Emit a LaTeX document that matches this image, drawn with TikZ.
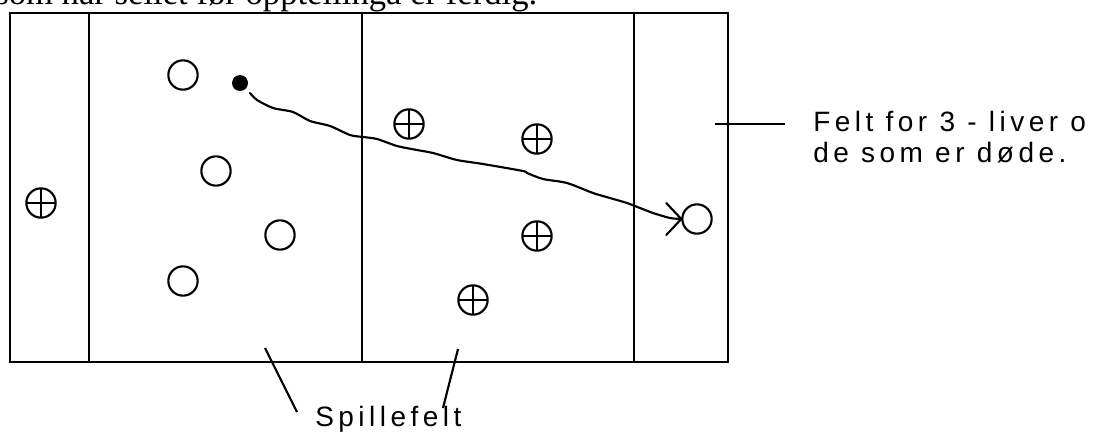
\documentclass[tikz,border=0pt]{standalone}
\usepackage{fontspec}
\setmainfont{Liberation Sans}
\newfontfamily\notefont{Liberation Serif}
\newfontfamily\spacedfont[LetterSpace=16]{Liberation Sans}
\begin{document}
\begin{tikzpicture}[x=0.75pt, y=-0.75pt,
  frame/.style={line width=1.8pt, line cap=rect},
  token/.style={circle, draw, line width=1.6pt, minimum size=22pt, inner sep=0pt},
  live/.style={token, path picture={
      \draw[line width=1.6pt]
        (path picture bounding box.north) -- (path picture bounding box.south)
        (path picture bounding box.west) -- (path picture bounding box.east);}},
  dead/.style={circle, fill, minimum size=12pt, inner sep=0pt},
  track/.style={line width=1.6pt, line cap=round, line join=round},
  leader/.style={line width=1.6pt},
  label/.style={font=\spacedfont\fontsize{21}{25}\selectfont, inner sep=0pt, anchor=base west},
]
\useasboundingbox (0,0) rectangle (1102,432);
\clip (0,0) rectangle (1102,432);

% caption line running off the top edge
\node[font=\notefont\fontsize{26}{30}\selectfont, anchor=base west, inner sep=0pt] (note) at (-5,4)
  {som har sellet før opptellinga er ferdig.};

% board: outer frame and field dividers
\draw[frame] (10,13) rectangle (728,362);
\draw[frame] (89,13) -- (89,362);
\draw[frame] (362,13) -- (362,362);
\draw[frame] (634,13) -- (634,362);

% pieces
\node[live] (l0) at (41,203) {};
\node[token] (o1) at (183,75) {};
\node[dead] (d1) at (240,83) {};
\node[token] (o2) at (216,171) {};
\node[token] (o3) at (280,235) {};
\node[token] (o4) at (183,281) {};
\node[live] (l1) at (409,124) {};
\node[live] (l2) at (537,139) {};
\node[live] (l3) at (537,236) {};
\node[live] (l4) at (473,300) {};
\node[token] (goal) at (697,219) {};

% hand-drawn move from the dead piece to the right field
\draw[track] plot[smooth, tension=0.45] coordinates {
  ([shift={(10,10)}]d1.center) (257,100) (273,108) (293,112) (310,121) (330,126)
  (350,135) (363,137) (377,139) (397,146) (417,150) (433,153) (457,160)
  (483,164) (523,171) (527,173) (543,179) (567,183) (593,193) (610,198)
  (627,203) (640,208) (653,213) (670,218) (goal.west)};
\draw[track] (goal.west) -- ++(-15,-16) (goal.west) -- ++(-15,16);

% labels
\node[label] (felt) at (813,131) {Felt for 3 - liver o};
\node[label] (felt2) at (813,162) {de som er døde.};
\coordinate (feltptr) at (715,124);
\draw[leader] (feltptr) -- ([xshift=-21pt]felt.west |- feltptr);

\node[label] (spill) at (315,426) {Spillefelt};
\coordinate (sp1) at (265,348);
\coordinate (sp2) at (458,349);
\draw[leader] (sp1) -- ([shift={(-18,-14)}]spill.base west);
\draw[leader] (sp2) -- ([shift={(128,-18)}]spill.base west);
\end{tikzpicture}
\end{document}
